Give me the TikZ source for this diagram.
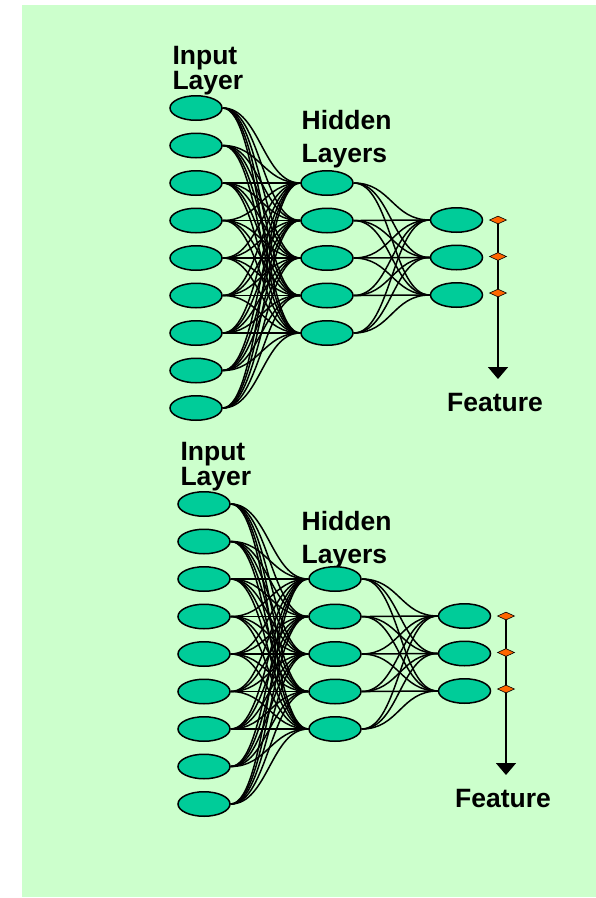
\documentclass[tikz,border=0pt]{standalone}
\usepackage{fontspec}
\setmainfont{Liberation Sans}
\usetikzlibrary{shapes.geometric,arrows.meta}
\definecolor{bggreen}{HTML}{CCFFCC}
\definecolor{neuron}{HTML}{00CC99}
\definecolor{marker}{HTML}{FF6600}
\tikzset{
  neur/.style={ellipse, draw=black, line width=1.5pt, fill=neuron, minimum width=52pt, minimum height=24.5pt, inner sep=0pt},
  conn/.style={draw=black, line width=1.5pt},
  mk/.style={diamond, draw=black, line width=0.6pt, fill=marker, minimum width=17pt, minimum height=8pt, inner sep=0pt},
  featline/.style={draw=black, line width=1.6pt, -{Triangle[width=20pt,length=12pt]}},
  lbl/.style={anchor=base west, inner sep=0pt, font=\bfseries\fontsize{26.5}{26.5}\selectfont},
  flbl/.style={anchor=base, inner sep=0pt, font=\bfseries\fontsize{26.5}{26.5}\selectfont}
}
\begin{document}
\begin{tikzpicture}[x=1pt,y=-1pt]
\useasboundingbox (0,0) rectangle (596,898);
\fill[bggreen] (22,5) rectangle (596,897);
\foreach \s/\dx/\dy/\hx/\hy in {t/0/0/301.5/0, b/8/396/293.5/5} {
\begin{scope}[shift={(\dx,\dy)}, name prefix=\s-]
  % labels
  \node[lbl, text depth=0pt] (inA) at (172.3,64.5) {Input};
  \node[lbl] (inB) at (172.3,89.5) {Layer};
  \node[lbl] (hidA) at (\hx,129+\hy) {Hidden};
  \node[lbl] (hidB) at (\hx,162+\hy) {Layers};
  % neurons
  \foreach \i in {1,...,9} \node[neur] (I\i) at (196,{108+37.5*(\i-1)}) {};
  \foreach \j in {1,...,5} \node[neur] (H\j) at (327,{183+37.5*(\j-1)}) {};
  \foreach \k in {1,...,3} \node[neur] (O\k) at (456.5,{220+37.5*(\k-1)}) {};
  % connections
  \foreach \i in {1,...,9} \foreach \j in {1,...,5}
    \draw[conn] (I\i.east) .. controls +(37,0) and +(-37,0) .. (H\j.west);
  \foreach \j in {1,...,5} \foreach \k in {1,...,3}
    \draw[conn] (H\j.east) .. controls +(37,0) and +(-37,0) .. (O\k.west);
  % feature axis
  \coordinate (tip) at (498,379);
  \coordinate (D1c) at (498,220);
  \draw[featline] (D1c) -- (tip);
  \node[mk] (D1) at (498,220) {};
  \node[mk] (D2) at (498,256.5) {};
  \node[mk] (D3) at (498,293) {};
  \node[flbl] (feat) at (495,411.5) {Feature};
\end{scope}
}
\end{tikzpicture}
\end{document}
